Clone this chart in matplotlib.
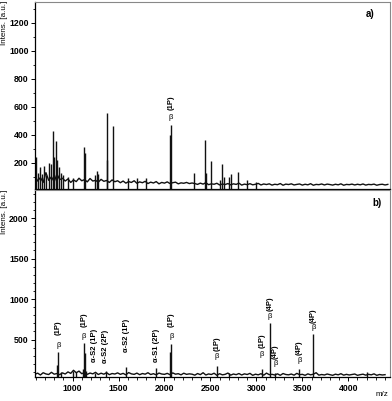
import numpy as np
import matplotlib
matplotlib.use("Agg")
import matplotlib.pyplot as plt
from matplotlib.ticker import MultipleLocator

plt.rcParams['font.family'] = ['Liberation Sans', 'DejaVu Sans']

# ---------------- data ----------------
mz_start, mz_step = 590, 30

top_baseline = [110, 70, 95, 60, 130, 75, 100, 65, 120, 80, 90,
                70, 85, 60, 78, 66, 90, 72, 80, 64, 88, 70, 75, 62, 82, 68, 74, 60, 78, 65, 72,
                58, 70, 55, 66, 60, 72, 54, 64, 58, 68, 52, 62, 56, 66, 50, 60, 55, 64, 52, 58, 62, 50, 57, 54, 60, 52, 56,
                52, 46, 55, 48, 58, 44, 50, 47, 54, 42,
                49, 45, 52, 43, 50, 46, 55, 41, 48, 44,
                51, 43, 47, 53, 42, 49, 45, 50, 41, 47,
                44, 52, 40, 48, 45, 50, 42, 46, 49, 41,
                47, 43, 51, 40, 46, 44, 49, 42, 48, 45,
                41, 47, 43, 50, 40, 46, 44, 48, 42, 47,
                43, 49, 41, 46, 44, 48, 40, 45, 47, 42, 46]

bottom_baseline = [70, 85, 62, 90, 75, 68, 95, 72, 80, 66, 88,
                   74, 100, 82, 120, 90, 110, 78, 92, 70, 86, 76, 95, 68, 84, 72, 90, 66, 80, 74,
                   88, 70, 82, 64, 92, 76, 70, 85, 66, 80, 72, 90, 68, 78, 64, 86, 74, 70, 82, 66, 88, 72, 78, 64, 84, 70, 76,
                   72, 60, 80, 66, 90, 62, 75, 68, 84, 58,
                   78, 64, 70, 86, 60, 74, 66, 80, 62, 76,
                   68, 82, 58, 72, 64, 78, 60, 85, 66, 70,
                   62, 76, 58, 80, 68, 64, 74, 60, 82, 66,
                   70, 58, 76, 64, 72, 90, 60, 68, 62, 74,
                   66, 58, 72, 64, 78, 60, 70, 62, 68, 74,
                   58, 66, 72, 60, 70, 64, 76, 58, 68, 62, 66]

top_peak_mz = [605, 625, 650, 670, 690, 710, 740, 760, 783, 795, 815, 830, 850, 870, 900, 950,
               1000, 1120, 1130, 1240, 1261, 1280, 1370, 1375, 1435, 1600, 1700, 1800,
               2063, 2072, 2326, 2446, 2455, 2508, 2600, 2623, 2650, 2700, 2725, 2804, 2900, 3000]
top_peak_h = [240, 130, 170, 120, 180, 110, 200, 190, 425, 240, 355, 220, 170, 130, 110, 100,
              90, 315, 270, 110, 140, 120, 555, 220, 460, 95, 95, 90,
              400, 470, 130, 360, 130, 210, 80, 190, 100, 100, 120, 135, 75, 65]

bottom_peak_mz = [835, 844, 870, 1010, 1040, 1115, 1125, 1130, 1150, 1239, 1359, 1583, 1910,
                  2065, 2075, 2573, 2700, 3062, 3145, 3207, 3467, 3620, 4200]
bottom_peak_h = [190, 350, 100, 110, 100, 130, 460, 330, 110, 90, 110, 160, 150,
                 350, 440, 170, 90, 130, 710, 90, 140, 570, 100]

# annotations
top_ann_mz = [2070]
top_ann_text = ["(1P)"]
top_ann_y = [630]
top_beta_y = [526]

bot_ann_mz = [844, 1125, 1240, 1359, 1583, 1910, 2075, 2573, 3062, 3145, 3207, 3467, 3620]
bot_ann_text = ["(1P)", "(1P)", "α-S2 (1P)", "α-S2 (2P)", "α-S2 (1P)", "α-S1 (2P)", "(1P)",
                "(1P)", "(1P)", "(4P)", "(4P)", "(4P)", "(4P)"]
bot_ann_y = [650, 750, 430, 411, 555, 432, 750, 445, 485, 940, 345, 395, 790]
bot_beta_y = [432, 543, None, None, None, None, 543, 296, 309, 782, 198, 238, 648]

# ---------------- figure ----------------
fig = plt.figure(figsize=(3.92, 4.01), dpi=100)
ax1 = fig.add_axes([0.089, 0.529, 0.905, 0.466])
ax2 = fig.add_axes([0.089, 0.059, 0.905, 0.467])

xlim = (590, 4450)
lc = '#111111'

def draw(ax, baseline, pmz, ph, ylim):
    mz = mz_start + mz_step * np.arange(len(baseline))
    ax.plot(mz, baseline, color=lc, lw=1.0)
    ax.vlines(pmz, ylim[0], ph, color=lc, lw=1.0)
    ax.set_xlim(*xlim)
    ax.set_ylim(*ylim)
    for s in ['top', 'right']:
        ax.spines[s].set_color('#888888')
        ax.spines[s].set_linewidth(0.8)
    ax.spines['left'].set_linewidth(0.9)
    ax.spines['bottom'].set_linewidth(0.9)
    ax.tick_params(axis='both', labelsize=6.3, length=3, width=0.7, pad=1.5)
    ax.tick_params(which='minor', length=1.8, width=0.6)

# top panel
draw(ax1, top_baseline, top_peak_mz, top_peak_h, (14, 1350))
ax1.yaxis.set_minor_locator(MultipleLocator(100))
ax1.set_yticks([200, 400, 600, 800, 1000, 1200])
ax1.set_xticks([])
for lab in ax1.get_yticklabels():
    lab.set_fontweight('bold')
ax1.text(0.945, 0.935, "a)", transform=ax1.transAxes, fontsize=7, fontweight='bold',
         ha='center', va='center')
for m, t, y, by in zip(top_ann_mz, top_ann_text, top_ann_y, top_beta_y):
    ax1.text(m, y, t, rotation=90, fontsize=5.5, fontweight='bold', ha='center', va='center')
    ax1.text(m, by, "β", fontsize=5.5, ha='center', va='center')

# bottom panel
draw(ax2, bottom_baseline, bottom_peak_mz, bottom_peak_h, (33, 2345))
ax2.yaxis.set_minor_locator(MultipleLocator(100))
ax2.xaxis.set_minor_locator(MultipleLocator(100))
ax2.set_yticks([500, 1000, 1500, 2000])
ax2.set_xticks([1000, 1500, 2000, 2500, 3000, 3500, 4000])
for lab in ax2.get_yticklabels() + ax2.get_xticklabels():
    lab.set_fontweight('bold')
ax2.text(0.965, 0.93, "b)", transform=ax2.transAxes, fontsize=7, fontweight='bold',
         ha='center', va='center')
for m, t, y, by in zip(bot_ann_mz, bot_ann_text, bot_ann_y, bot_beta_y):
    ax2.text(m, y, t, rotation=90, fontsize=5.5, fontweight='bold', ha='center', va='center')
    if by is not None:
        ax2.text(m, by, "β", fontsize=5.5, ha='center', va='center')

fig.text(0.003, 0.998, "Intens. [a.u.]", rotation=90, fontsize=5.8, ha='left', va='top')
fig.text(0.003, 0.526, "Intens. [a.u.]", rotation=90, fontsize=5.8, ha='left', va='top')
fig.text(0.975, 0.008, "m/z", fontsize=5.8, ha='center', va='bottom')

fig.savefig("out.png", dpi=100)
